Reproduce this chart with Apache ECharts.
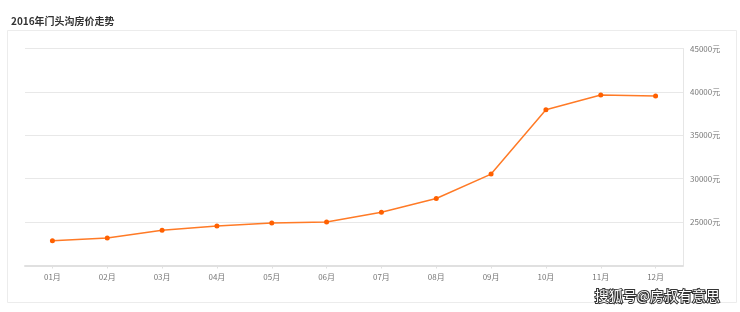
<!DOCTYPE html>
<html><head><meta charset="utf-8">
<script src="https://cdn.jsdelivr.net/npm/echarts@6/dist/echarts.min.js"></script>
<style>html,body{margin:0;padding:0;background:#fff}#c{width:740px;height:312px}</style>
</head><body><div id="c"></div>
<script>
const categories = ['01月','02月','03月','04月','05月','06月','07月','08月','09月','10月','11月','12月'];
const prices = [22860, 23170, 24050, 24560, 24910, 25020, 26130, 27720, 30530, 37940, 39640, 39520];
const yTicks = [20000, 25000, 30000, 35000, 40000, 45000];

const chart = echarts.init(document.getElementById('c'), null, {renderer:'canvas'});
chart.setOption({
  animation: false,
  backgroundColor: '#fff',
  title: {
    text: '2016年门头沟房价走势', left: 6, top: 11,
    textStyle: {fontSize: 10, fontWeight: 'bold', color: '#333', fontFamily: 'Noto Sans CJK SC'}
  },
  graphic: [
    {type:'rect', shape:{x:7.5, y:30.5, width:729, height:272}, style:{fill:'none', stroke:'#ececec', lineWidth:1}, z:-1},
    {type:'text', right: 19, top: 288, style:{text:'搜狐号@房叔有意思', fill:'#fff', stroke:'#333', lineWidth:2, font:'14px "Noto Sans CJK SC"'}, z:100}
  ],
  grid: {left: 25, right: 57, top: 48.5, bottom: 46.5},
  xAxis: {
    type: 'category', data: categories, boundaryGap: true,
    axisLine: {lineStyle: {color: '#e0e0e0', width: 2}},
    axisTick: {show: true, alignWithLabel: true, length: 3, lineStyle: {color: '#e0e0e0'}},
    axisLabel: {color: '#777', fontSize: 8, margin: 7, fontFamily: 'Noto Sans CJK SC'}
  },
  yAxis: {
    type: 'value', position: 'right', min: yTicks[0], max: yTicks[yTicks.length-1], interval: 5000,
    axisLine: {show: true, lineStyle: {color: '#e6e6e6', width: 1}},
    axisTick: {show: false},
    splitLine: {show: true, lineStyle: {color: '#e8e8e8'}},
    axisLabel: {color: '#777', fontSize: 8, margin: 7, fontFamily: 'Noto Sans CJK SC',
      formatter: v => v === yTicks[0] ? '' : v + '元'}
  },
  series: [{
    type: 'line', data: prices,
    symbol: 'circle', symbolSize: 5,
    lineStyle: {color: '#ff7a26', width: 1.5},
    itemStyle: {color: '#ff6000'}
  }]
});
</script></body></html>
